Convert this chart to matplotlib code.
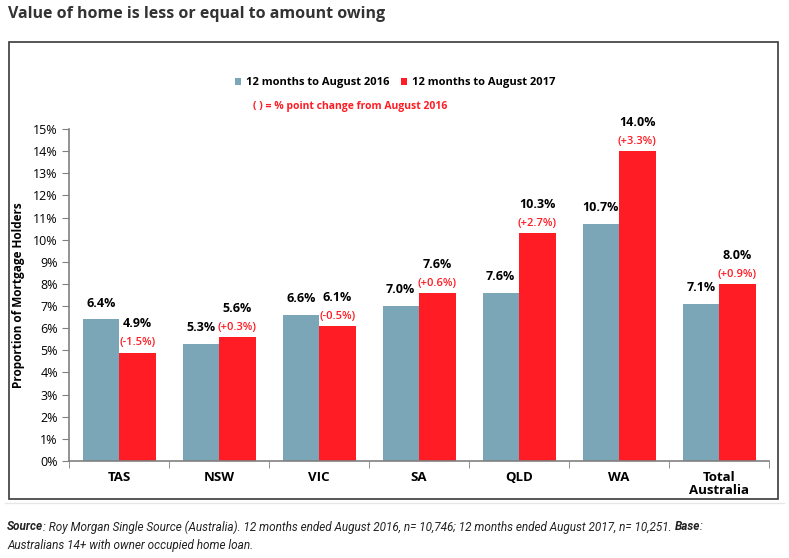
import matplotlib
matplotlib.use("Agg")
import matplotlib.pyplot as plt
from matplotlib.patches import Rectangle
from matplotlib.lines import Line2D
import numpy as np

categories = ["TAS", "NSW", "VIC", "SA", "QLD", "WA", "Total\nAustralia"]
values_2016 = [6.4, 5.3, 6.6, 7.0, 7.6, 10.7, 7.1]
values_2017 = [4.9, 5.6, 6.1, 7.6, 10.3, 14.0, 8.0]
changes = ["(-1.5%)", "(+0.3%)", "(-0.5%)", "(+0.6%)", "(+2.7%)", "(+3.3%)", "(+0.9%)"]
series_names = ["12 months to August 2016", "12 months to August 2017"]
yticks = list(range(0, 16))

BLUE = "#7BA6B7"
RED = "#FF1C24"
FONT = ["Open Sans", "DejaVu Sans"]

fig = plt.figure(figsize=(7.89, 5.58), dpi=100)
W, H = 789, 558

def fx(px):
    return px / W

def fy(py):
    return 1 - py / H

# Title
fig.text(fx(8), fy(14), "Value of home is less or equal to amount owing", fontsize=11.5,
         fontweight="bold", color="#333333", family=FONT, va="center", ha="left")

# Chart border box
fig.patches.append(Rectangle((fx(9), fy(499)), fx(778) - fx(9), fy(42) - fy(499),
                             transform=fig.transFigure, fill=False, edgecolor="#3a3a3a",
                             linewidth=1.2))
# light separator line
fig.lines.append(Line2D([fx(5), fx(784)], [fy(503), fy(503)], transform=fig.transFigure,
                        color="#e6e6e6", linewidth=1))

ax = fig.add_axes([fx(69), fy(461), fx(769) - fx(69), fy(129) - fy(461)])
x = np.arange(len(categories))
bw = 0.365
ax.bar(x - bw / 2, values_2016, bw, color=BLUE, label=series_names[0], zorder=2)
ax.bar(x + bw / 2, values_2017, bw, color=RED, label=series_names[1], zorder=2)

ax.set_xlim(-0.5, len(categories) - 0.5)
ax.set_ylim(0, 15)
ax.set_yticks(yticks)
ax.set_yticklabels([f"{t}%" for t in yticks], family=FONT, fontsize=9)
ax.set_xticks(x)
ax.set_xticklabels(categories, family=FONT, fontsize=9.5, fontweight="bold", linespacing=1.0)
ax.tick_params(axis="x", length=0, pad=7)
ax.set_xticks(np.arange(-0.5, len(categories)), minor=True)
ax.tick_params(axis="x", which="minor", length=5, color="#808080", direction="out")
ax.tick_params(axis="y", length=5, color="#808080", direction="out", pad=3)
for s in ["top", "right"]:
    ax.spines[s].set_visible(False)
for s in ["left", "bottom"]:
    ax.spines[s].set_color("#808080")
    ax.spines[s].set_linewidth(1.2)

ax.set_ylabel("Proportion of Mortgage Holders", family=FONT, fontsize=8.5,
              fontweight="bold", labelpad=6)

# Labels
for i, (a, b, c) in enumerate(zip(values_2016, values_2017, changes)):
    ax.annotate(f"{a:.1f}%", (x[i] - bw / 2, a), xytext=(0, 7), textcoords="offset points",
                ha="center", va="bottom", fontsize=9, fontweight="bold", family=FONT)
    ax.annotate(c, (x[i] + bw / 2, b), xytext=(0, 3), textcoords="offset points",
                ha="center", va="bottom", fontsize=8, fontweight="semibold", color=RED, family=FONT)
    ax.annotate(f"{b:.1f}%", (x[i] + bw / 2, b), xytext=(0, 16), textcoords="offset points",
                ha="center", va="bottom", fontsize=9, fontweight="bold", family=FONT)

# Legend
leg = fig.legend(loc="center", bbox_to_anchor=(fx(395), fy(83)), ncol=2, frameon=False,
                 prop={"family": FONT, "size": 8, "weight": "bold"}, handlelength=0.6,
                 handleheight=0.6, handletextpad=0.4, columnspacing=1.0)

fig.text(fx(350), fy(106), "( ) = % point change from August 2016", fontsize=7.5,
         fontweight="bold", color=RED, family=FONT, ha="center", va="center")

# Source (built from pieces so bold italic parts render in the same family)
src_font = ["Roboto", "DejaVu Sans"]
fig.canvas.draw()
renderer = fig.canvas.get_renderer()
pieces = [("Source", "bold"),
          (": Roy Morgan Single Source (Australia). 12 months ended August 2016, n= 10,746; 12 months ended August 2017, n= 10,251. ", "normal"),
          ("Base", "bold"),
          (":", "normal")]
xpos = fx(7)
for txt, wt in pieces:
    t = fig.text(xpos, fy(527), txt, fontsize=8.5, style="italic", fontweight=wt,
                 family=src_font, ha="left", va="center", color="#222222")
    bb = t.get_window_extent(renderer=renderer)
    xpos += bb.width / W
fig.text(fx(7), fy(545), "Australians 14+ with owner occupied home loan.",
         fontsize=8.5, style="italic", family=src_font, ha="left", va="center", color="#222222")

fig.savefig("out.png", dpi=100)
